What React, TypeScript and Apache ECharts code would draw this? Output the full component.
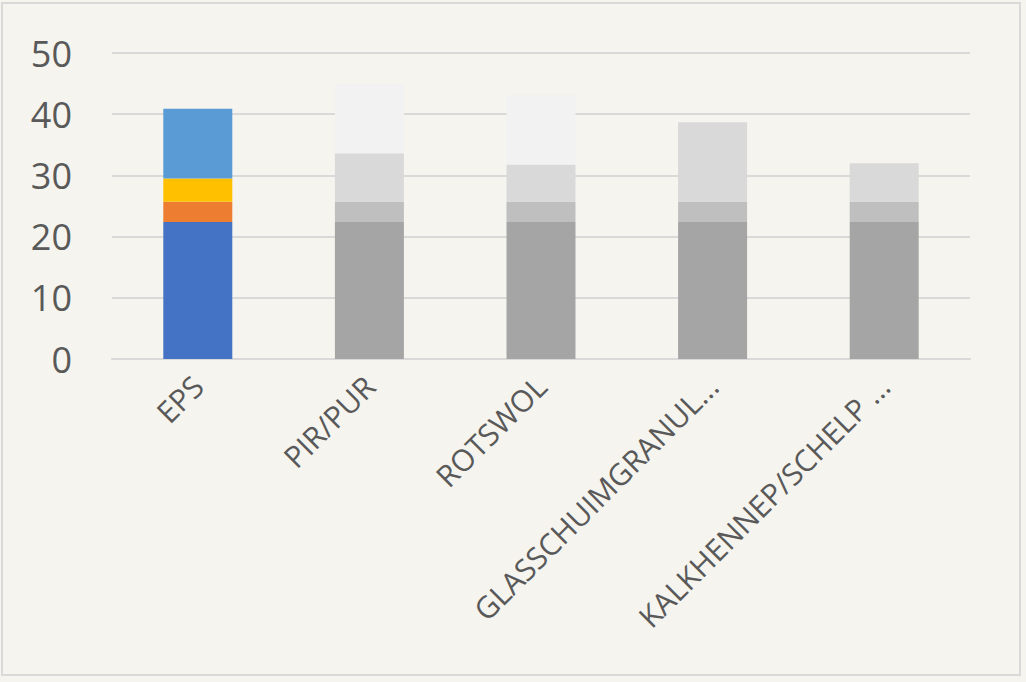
import React, { useEffect, useRef } from "react";
import * as echarts from "echarts";

const categories = ["EPS", "PIR/PUR", "ROTSWOL", "GLASSCHUIMGRANUL...", "KALKHENNEP/SCHELP ..."];
const layer1 = [22.4, 22.4, 22.4, 22.4, 22.4];
const layer2 = [3.3, 3.3, 3.3, 3.3, 3.3];
const layer3 = [3.8, 7.9, 6.1, 13.0, 6.3];
const layer4 = [11.4, 11.3, 11.3, 0, 0];
const yTicks = [0, 10, 20, 30, 40, 50];

const epsColors = ["#4472c4", "#ed7d31", "#ffc000", "#5b9bd5"];
const grayColors = ["#a5a5a5", "#bfbfbf", "#d9d9d9", "#f2f2f2"];

export default function App() {
  const ref = useRef<HTMLDivElement>(null);
  useEffect(() => {
    if (!ref.current) return;
    const chart = echarts.init(ref.current, undefined, { renderer: "svg" });
    const layers = [layer1, layer2, layer3, layer4];
    chart.setOption({
      animation: false,
      backgroundColor: "#f5f4ef",
      graphic: [
        {
          type: "rect",
          shape: { x: 2, y: 3, width: 1018, height: 672 },
          style: { fill: "none", stroke: "#d9d9d9", lineWidth: 2 },
          silent: true,
        },
      ],
      grid: { left: 112, right: 56, top: 53, bottom: 323, containLabel: false },
      xAxis: {
        type: "category",
        data: categories,
        axisLine: { show: true, lineStyle: { color: "#d9d9d9", width: 2 } },
        axisTick: { show: false },
        axisLabel: {
          rotate: 45,
          interval: 0,
          margin: 22,
          fontSize: 30,
          color: "#595959",
          fontFamily: "Open Sans",
        },
      },
      yAxis: {
        type: "value",
        min: yTicks[0],
        max: yTicks[yTicks.length - 1],
        interval: 10,
        axisLine: { show: false },
        axisTick: { show: false },
        splitLine: { lineStyle: { color: "#d9d9d9", width: 2 } },
        axisLabel: {
          fontSize: 36,
          color: "#595959",
          fontFamily: "Open Sans",
          margin: 40,
        },
      },
      series: layers.map((vals, li) => ({
        type: "bar",
        stack: "total",
        barWidth: 69,
        data: vals.map((v, ci) => ({
          value: v,
          itemStyle: { color: ci === 0 ? epsColors[li] : grayColors[li] },
        })),
      })),
    });
    return () => chart.dispose();
  }, []);
  return (
    <div
      ref={ref}
      style={{ position: "absolute", left: 0, top: 0, width: 1026, height: 682 }}
    />
  );
}
